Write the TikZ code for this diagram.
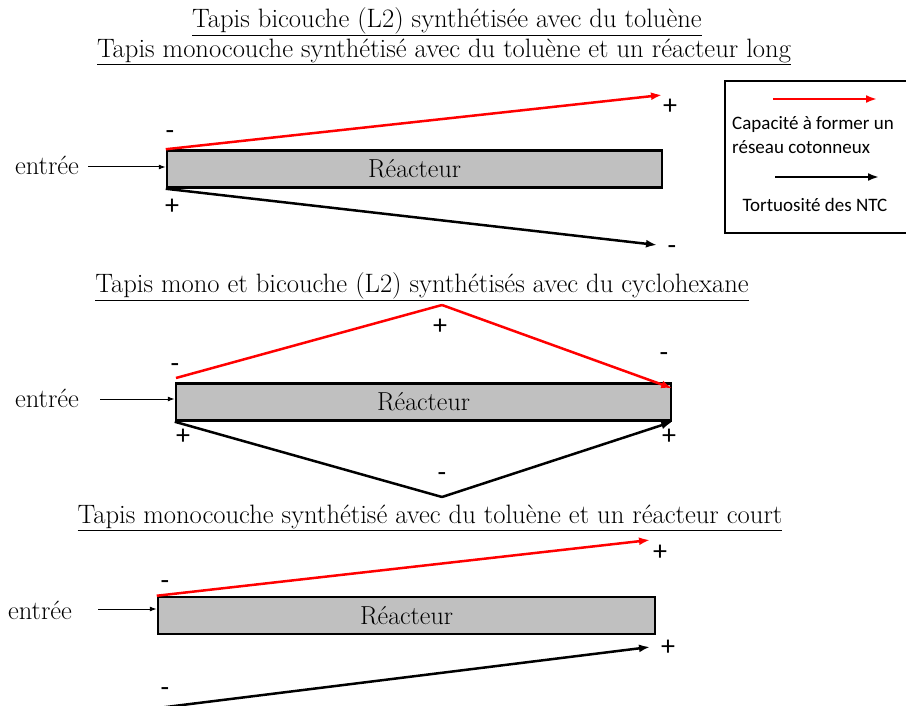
\documentclass[tikz,border=0pt]{standalone}
\usepackage{fontspec}
\newfontfamily\carl{Carlito}
\usetikzlibrary{arrows.meta}
\definecolor{rgray}{HTML}{C0C0C0}
\definecolor{rred}{HTML}{FF0000}
\begin{document}
\begin{tikzpicture}[x=1pt,y=-1pt,
 reactor/.style={draw=black, line width=2.5pt, fill=rgray, minimum height=37pt, inner sep=0pt, font=\fontsize{26}{30}\selectfont},
 title/.style={font=\fontsize{26.6}{31}\selectfont, inner sep=0pt},
 lbl/.style={font=\fontsize{26.5}{30}\selectfont, inner sep=0pt},
 sgn/.style={font=\carl\fontsize{28}{32}\selectfont, inner sep=0pt},
 redarr/.style={draw=rred, line width=2.5pt, -{Latex[length=11pt,width=8pt]}},
 blkarr/.style={draw=black, line width=2.5pt, -{Latex[length=11pt,width=8pt]}},
 redline/.style={draw=rred, line width=2.5pt},
 blkline/.style={draw=black, line width=2.5pt},
 inarr/.style={draw=black, line width=1pt, -{Latex[length=7pt,width=5pt]}},
 legtxt/.style={font=\carl\fontsize{19}{23}\selectfont, inner sep=0pt, align=left}
]
\useasboundingbox (0,0) rectangle (906,706);

% titles
\node[title] (t1) at (447,22) {\underline{Tapis bicouche (L2) synthétisée avec du toluène}};
\node[title] (t2) at (444,52) {\underline{Tapis monocouche\ synthétisé avec du toluène et un réacteur\ long}};
\node[title] (t3) at (422,287) {\underline{Tapis mono et bicouche (L2) synthétisés avec du cyclohexane}};
\node[title] (t4) at (430,518) {\underline{Tapis\ monocouche synthétisé avec du toluène et un réacteur court}};

% diagram 1
\node[reactor, minimum width=495pt] (r1) at (414.5,169) {Réacteur};
\node[lbl] (e1) at (47,165) {entrée};
\coordinate (e1s) at (88,167);
\draw[inarr] (e1s) -- (r1.west |- e1s);
\coordinate (a1) at (662,95);
\coordinate (b1) at (657,245);
\draw[redarr] (r1.north west) -- (a1);
\draw[blkarr] (r1.south west) -- (b1);
\node[sgn] (s1a) at (170,135) {-};
\node[sgn] (s1b) at (670,107) {+};
\node[sgn] (s1c) at (172,207) {+};
\node[sgn] (s1d) at (672,250) {-};

% legend
\node[draw, line width=2pt, minimum width=190pt, minimum height=152pt, anchor=north west, inner sep=0pt] (leg) at (724,80) {};
\coordinate (l1a) at (773,99);
\coordinate (l1b) at (877,99);
\coordinate (l2a) at (775,177);
\coordinate (l2b) at (879,177);
\draw[redarr] (l1a) -- (l1b);
\draw[blkarr] (l2a) -- (l2b);
\node[legtxt, anchor=west] (lt1) at (732,135) {Capacité à former un\\[1pt]réseau cotonneux};
\node[legtxt] (lt2) at (815,205) {Tortuosité des NTC};

% diagram 2
\node[reactor, minimum width=495pt] (r2) at (423.5,402) {Réacteur};
\node[lbl] (e2) at (47,398) {entrée};
\coordinate (e2s) at (100,399);
\draw[inarr] (e2s) -- (r2.west |- e2s);
\coordinate (p2) at (442,305);
\coordinate (q2) at (442,497);
\coordinate (rs) at (176,378);
\draw[redline] (rs) -- (p2);
\draw[redarr] (p2) -- ([yshift=-6pt]r2.north east);
\draw[blkline] (r2.south west) -- (q2);
\draw[blkarr] (q2) -- (r2.south east);
\node[sgn] (s2a) at (175,368) {-};
\node[sgn] (s2b) at (440,327) {+};
\node[sgn] (s2c) at (664,357) {-};
\node[sgn] (s2d) at (183,437) {+};
\node[sgn] (s2e) at (442,477) {-};
\node[sgn] (s2f) at (669,437) {+};

% diagram 3
\node[reactor, minimum width=497pt] (r3) at (406.5,615.5) {Réacteur};
\node[lbl] (e3) at (40,610) {entrée};
\coordinate (e3s) at (98,609);
\draw[inarr] (e3s) -- (r3.west |- e3s);
\coordinate (a3) at (650,540);
\coordinate (c3) at (158,708);
\coordinate (b3) at (650,647);
\draw[redarr] (r3.north west) -- (a3);
\draw[blkarr] (c3) -- (b3);
\node[sgn] (s3a) at (165,585) {-};
\node[sgn] (s3b) at (660,553) {+};
\node[sgn] (s3c) at (165,692) {-};
\node[sgn] (s3d) at (668,648) {+};
\end{tikzpicture}
\end{document}
